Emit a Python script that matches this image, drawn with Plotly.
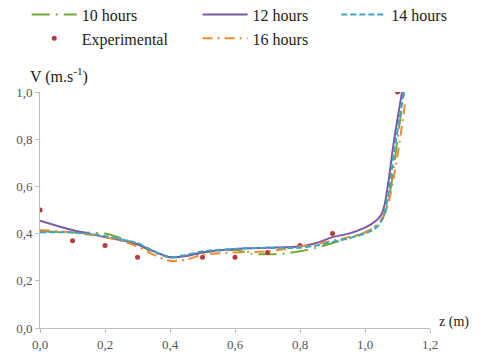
import plotly.graph_objects as go

# Velocity profiles along the column (z in m, V in m/s)
Z_10H = [0, 0.1, 0.2, 0.25, 0.3, 0.35, 0.4, 0.45, 0.5, 0.6, 0.65, 0.7, 0.75, 0.8,
         0.85, 0.9, 0.95, 1.0, 1.04, 1.06, 1.08, 1.1, 1.12]
V_10H = [0.41, 0.405, 0.40, 0.38, 0.355, 0.32, 0.30, 0.305, 0.32, 0.33, 0.315, 0.312,
         0.315, 0.325, 0.34, 0.36, 0.38, 0.405, 0.44, 0.48, 0.6, 0.8, 1.0]

Z_12H = [0, 0.1, 0.2, 0.3, 0.35, 0.4, 0.45, 0.5, 0.6, 0.7, 0.8, 0.85, 0.9, 0.95,
         1.0, 1.03, 1.05, 1.06, 1.07, 1.09, 1.114]
V_12H = [0.455, 0.415, 0.385, 0.355, 0.325, 0.30, 0.305, 0.32, 0.335, 0.34, 0.345,
         0.36, 0.385, 0.40, 0.425, 0.45, 0.48, 0.52, 0.6, 0.8, 1.0]

Z_14H = [0, 0.1, 0.2, 0.25, 0.3, 0.35, 0.4, 0.45, 0.5, 0.6, 0.7, 0.8, 0.85, 0.9,
         0.95, 1.0, 1.03, 1.05, 1.07, 1.09, 1.12]
V_14H = [0.405, 0.405, 0.39, 0.375, 0.36, 0.325, 0.30, 0.31, 0.325, 0.335, 0.34,
         0.34, 0.35, 0.365, 0.38, 0.40, 0.42, 0.45, 0.55, 0.75, 1.0]

Z_16H = [0, 0.1, 0.2, 0.25, 0.3, 0.35, 0.4, 0.45, 0.5, 0.6, 0.7, 0.8, 0.85, 0.9,
         0.95, 1.0, 1.03, 1.05, 1.07, 1.09, 1.11, 1.125]
V_16H = [0.415, 0.405, 0.385, 0.37, 0.345, 0.31, 0.285, 0.29, 0.31, 0.32, 0.325,
         0.345, 0.355, 0.37, 0.385, 0.405, 0.43, 0.46, 0.52, 0.65, 0.82, 0.97]

Z_EXP = [0, 0.1, 0.2, 0.3, 0.5, 0.6, 0.7, 0.8, 0.9, 1.1]
V_EXP = [0.50, 0.37, 0.35, 0.30, 0.30, 0.30, 0.32, 0.35, 0.40, 1.0]

X_TICKS = [0, 0.2, 0.4, 0.6, 0.8, 1.0, 1.2]
Y_TICKS = [0, 0.2, 0.4, 0.6, 0.8, 1.0]

SERIF = "Liberation Serif, serif"
LEGEND_FONT = dict(family=SERIF, size=16, color="#222")
TICK_FONT = dict(family=SERIF, size=13, color="#555")

fig = go.Figure()


def add_line(z, v, name, colour, dash, legend):
    fig.add_trace(go.Scatter(
        x=z, y=v, name=name, mode="lines", legend=legend, legendgroup=name,
        line=dict(color=colour, width=2, dash=dash, shape="spline", smoothing=0.8),
    ))


add_line(Z_10H, V_10H, "10 hours", "#77a83a", "18px,6px,2px,6px", "legend")
fig.add_trace(go.Scatter(
    x=Z_EXP, y=V_EXP, name="Experimental", mode="markers",
    legend="legend", legendgroup="Experimental",
    marker=dict(color="#b33a3a", size=5),
))
add_line(Z_12H, V_12H, "12 hours", "#7a5aa6", "solid", "legend2")
add_line(Z_16H, V_16H, "16 hours", "#f08a30", "10px,5px,2px,5px", "legend2")
add_line(Z_14H, V_14H, "14 hours", "#3fa6c4", "6px,3px", "legend3")


def legend_box(x):
    # three separate legend columns so they line up like the original
    return dict(
        orientation="v", x=x, xanchor="left", xref="container",
        y=1.40, yanchor="top", yref="paper",
        traceorder="grouped", tracegroupgap=0, itemwidth=45,
        bgcolor="rgba(0,0,0,0)", font=LEGEND_FONT,
    )


fig.update_layout(
    width=480, height=359,
    margin=dict(l=32, r=58, t=84, b=39, autoexpand=False),
    plot_bgcolor="white", paper_bgcolor="white",
    separators=", ",
    font=LEGEND_FONT,
    showlegend=True,
    legend=legend_box(0.039),
    legend2=legend_box(0.395),
    legend3=legend_box(0.684),
    xaxis=dict(
        range=[0, 1.2], tickvals=X_TICKS, tickformat=".1f",
        showline=True, linecolor="#bfbfbf", linewidth=1,
        showgrid=False, zeroline=False,
        ticks="outside", ticklen=4, tickcolor="#bfbfbf",
        tickfont=TICK_FONT,
    ),
    yaxis=dict(
        range=[0, 1.0], tickvals=Y_TICKS, tickformat=".1f",
        showline=True, linecolor="#bfbfbf", linewidth=1,
        showgrid=False, zeroline=False,
        ticks="outside", ticklen=4, tickcolor="#bfbfbf",
        tickfont=TICK_FONT,
    ),
    annotations=[
        dict(text="V (m.s<sup>-1</sup>)", xref="paper", yref="paper",
             x=-0.031, y=1.072, xanchor="left", yanchor="middle", showarrow=False,
             font=dict(family=SERIF, size=16, color="#222")),
        dict(text="z (m)", xref="paper", yref="paper",
             x=1.018, y=0.025, xanchor="left", yanchor="middle", showarrow=False,
             font=dict(family=SERIF, size=14, color="#222")),
    ],
)

fig.write_html("out.html")
